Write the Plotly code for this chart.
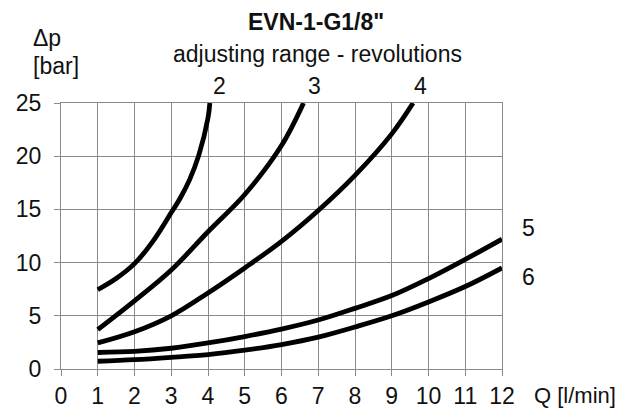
import plotly.graph_objects as go

# Data: Q [l/min] vs Δp [bar] for adjusting revolutions
x_rev2 = [1, 1.5, 2, 2.5, 3, 3.25, 3.5, 3.75, 4, 4.05]
y_rev2 = [7.45, 8.5, 9.9, 12.0, 14.7, 16.1, 17.8, 20.1, 23.6, 25]

x_rev3 = [1, 2, 3, 4, 5, 6, 6.6]
y_rev3 = [3.7, 6.4, 9.3, 12.9, 16.4, 21.0, 25]

x_rev4 = [1, 2, 3, 4, 5, 6, 7, 8, 9, 9.58]
y_rev4 = [2.45, 3.5, 5.0, 7.15, 9.5, 12.0, 14.9, 18.2, 22.1, 25]

x_rev5 = [1, 2, 3, 4, 5, 6, 7, 8, 9, 10, 11, 12]
y_rev5 = [1.55, 1.65, 1.95, 2.45, 3.05, 3.75, 4.6, 5.7, 6.9, 8.5, 10.3, 12.2]

x_rev6 = [1, 2, 3, 4, 5, 6, 7, 8, 9, 10, 11, 12]
y_rev6 = [0.73, 0.88, 1.1, 1.36, 1.77, 2.3, 3.0, 3.95, 5.0, 6.3, 7.75, 9.5]

x_ticks = list(range(0, 13))
y_ticks = [0, 5, 10, 15, 20, 25]

FONT = "Liberation Sans, Arial, sans-serif"
FS = 23
GRID = "#8a8a8a"

fig = go.Figure()
for xs, ys in [(x_rev2, y_rev2), (x_rev3, y_rev3), (x_rev4, y_rev4),
               (x_rev5, y_rev5), (x_rev6, y_rev6)]:
    fig.add_trace(go.Scatter(x=xs, y=ys, mode="lines",
                             line=dict(color="black", width=4.8, shape="spline"),
                             showlegend=False, hoverinfo="skip"))

W, H = 625, 408
L, R, T, B = 61, 123, 103, 39
pw, ph = W - L - R, H - T - B

def px(xp):
    return (xp - L) / pw

def py(yp):
    return (H - B - yp) / ph

axis_common = dict(showgrid=True, gridcolor=GRID, gridwidth=1, showline=True,
                   linecolor=GRID, linewidth=1, mirror=True, ticks="outside",
                   ticklen=6, tickcolor=GRID, zeroline=False, automargin=False,
                   tickfont=dict(size=FS, color="#111111"))

fig.update_layout(
    width=W, height=H,
    margin=dict(l=L, r=R, t=T, b=B, pad=0, autoexpand=False),
    plot_bgcolor="white", paper_bgcolor="white",
    font=dict(family=FONT, size=FS, color="#111111"),
    xaxis=dict(range=[0, 12], tickvals=x_ticks, ticklabelstandoff=0, **axis_common),
    yaxis=dict(range=[0, 25], tickvals=y_ticks, ticklabelstandoff=8, **axis_common),
)

ann = [
    dict(text="<b>EVN-1-G1/8\"</b>", x=px(316), y=py(22), xanchor="center", yanchor="middle"),
    dict(text="adjusting range - revolutions", x=px(317), y=py(54), xanchor="center", yanchor="middle"),
    dict(text="2", x=px(219), y=py(86), xanchor="center", yanchor="middle"),
    dict(text="3", x=px(314), y=py(86), xanchor="center", yanchor="middle"),
    dict(text="4", x=px(420), y=py(86), xanchor="center", yanchor="middle"),
    dict(text="5", x=px(528), y=py(228), xanchor="center", yanchor="middle"),
    dict(text="6", x=px(528), y=py(277), xanchor="center", yanchor="middle"),
    dict(text="Δp", x=px(31), y=py(38), xanchor="left", yanchor="middle"),
    dict(text="[bar]", x=px(31), y=py(66), xanchor="left", yanchor="middle"),
]
for a in ann:
    fig.add_annotation(xref="paper", yref="paper", showarrow=False,
                       font=dict(family=FONT, size=FS, color="#111111"), **a)

fig.add_annotation(xref="paper", yref="paper", showarrow=False,
                   text="Q [l/min]", x=px(618), y=py(395), xanchor="right", yanchor="middle",
                   font=dict(family=FONT, size=22, color="#111111"))

fig.write_html("out.html", config={"displayModeBar": False},
               post_script="document.body.style.margin='0';document.body.style.padding='0';")
